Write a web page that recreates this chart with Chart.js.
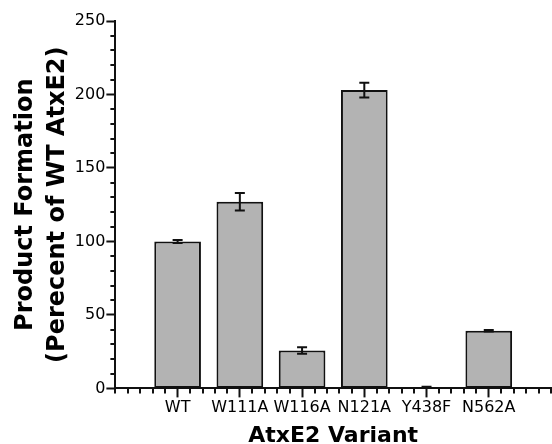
<!DOCTYPE html>
<html>
<head>
<meta charset="utf-8">
<script src="https://cdn.jsdelivr.net/npm/chart.js@4"></script>
<style>
  html, body { margin: 0; padding: 0; background: #fff; }
  #wrap { width: 552px; height: 444px; }
</style>
</head>
<body>
<div id="wrap"><canvas id="barChart"></canvas></div>
<script>
// values
const variants = ['WT', 'W111A', 'W116A', 'N121A', 'Y438F', 'N562A'];
const productFormation = [100, 127, 25.8, 203, 0.8, 39.3];
const errorSD = [1, 6, 2.2, 5, 0.3, 0.5];
const yMax = 250;
const yMajorStep = 50;
const yMinorStep = 10;
const xMinorStep = 0.2;

const points = variants.map((name, i) => ({ x: i + 1, y: productFormation[i] }));

// error bars + the small minor ticks on both axes
const extrasPlugin = {
  id: 'extras',
  afterDatasetsDraw(chart) {
    const ctx = chart.ctx;
    const yScale = chart.scales.y;
    const meta = chart.getDatasetMeta(0);
    ctx.save();
    ctx.strokeStyle = '#111';
    ctx.lineWidth = 2;
    meta.data.forEach((bar, i) => {
      const top = yScale.getPixelForValue(productFormation[i] + errorSD[i]);
      const bot = yScale.getPixelForValue(productFormation[i] - errorSD[i]);
      ctx.beginPath();
      ctx.moveTo(bar.x, top); ctx.lineTo(bar.x, bot);
      ctx.moveTo(bar.x - 5, top); ctx.lineTo(bar.x + 5, top);
      ctx.moveTo(bar.x - 5, bot); ctx.lineTo(bar.x + 5, bot);
      ctx.stroke();
    });
    ctx.restore();
  },
  afterDraw(chart) {
    const ctx = chart.ctx;
    const area = chart.chartArea;
    const xs = chart.scales.x, ys = chart.scales.y;
    ctx.save();
    ctx.strokeStyle = '#111';
    ctx.lineWidth = 2;
    ctx.beginPath();
    for (let v = 0; v <= yMax; v += yMinorStep) {
      if (v % yMajorStep === 0) continue;
      const y = Math.round(ys.getPixelForValue(v));
      ctx.moveTo(area.left - 5, y); ctx.lineTo(area.left, y);
    }
    for (let k = 0; k * xMinorStep <= xs.max + 1e-9; k++) {
      const v = k * xMinorStep;
      if (Math.abs(v - Math.round(v)) < 1e-6 && v > 0 && v < xs.max) continue;
      const x = Math.round(xs.getPixelForValue(v));
      ctx.moveTo(x, area.bottom); ctx.lineTo(x, area.bottom + 5);
    }
    ctx.stroke();
    ctx.restore();
  }
};

new Chart(document.getElementById('barChart'), {
  type: 'bar',
  data: {
    datasets: [{
      data: points,
      backgroundColor: '#b3b3b3',
      borderColor: '#111',
      borderWidth: 2,
      borderSkipped: false,
      barPercentage: 0.75,
      categoryPercentage: 1
    }]
  },
  options: {
    responsive: true,
    maintainAspectRatio: false,
    animation: false,
    layout: { padding: { top: 21, right: 0, left: 10, bottom: 0 } },
    plugins: { legend: { display: false }, tooltip: { enabled: false } },
    scales: {
      x: {
        type: 'linear',
        min: 0,
        max: variants.length + 1,
        offset: false,
        grid: {
          offset: false, drawOnChartArea: false, tickLength: 9, tickWidth: 2,
          tickColor: c => (c.tick && (c.tick.value === 0 || c.tick.value === variants.length + 1)) ? 'rgba(0,0,0,0)' : '#111'
        },
        border: { color: '#111', width: 2 },
        ticks: {
          stepSize: 1,
          autoSkip: false,
          maxRotation: 0,
          padding: 1,
          color: '#000',
          font: { family: 'DejaVu Sans', size: 16 },
          callback: v => variants[v - 1] || ''
        },
        title: {
          display: true,
          text: 'AtxE2 Variant',
          color: '#000',
          font: { family: 'DejaVu Sans', size: 22, weight: 'bold' },
          padding: { top: 4, bottom: -5 }
        }
      },
      y: {
        min: 0,
        max: yMax,
        grid: { drawOnChartArea: false, tickLength: 9, tickColor: '#111', tickWidth: 2 },
        border: { color: '#111', width: 2 },
        ticks: {
          stepSize: yMajorStep,
          padding: 1,
          color: '#000',
          font: { family: 'DejaVu Sans', size: 16 }
        },
        title: {
          display: true,
          text: ['Product Formation', '(Perecent of WT AtxE2)'],
          color: '#000',
          font: { family: 'DejaVu Sans', size: 24, weight: 'bold', lineHeight: 1.33 },
          padding: { top: 0, bottom: 0 }
        }
      }
    }
  },
  plugins: [extrasPlugin]
});
</script>
</body>
</html>
